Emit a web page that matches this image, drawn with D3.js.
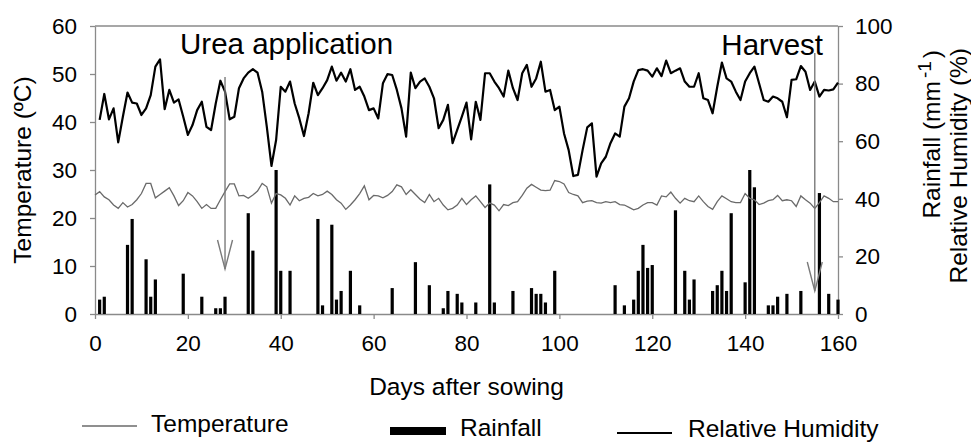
<!DOCTYPE html>
<html>
<head>
<meta charset="utf-8">
<script src="https://cdn.jsdelivr.net/npm/d3@7"></script>
<style>
  body { margin: 0; background: #fff; }
  svg text { font-family: "Liberation Sans", Arial, sans-serif; fill: #000; }
</style>
</head>
<body>
<svg id="chart"></svg>
<script>
var vWidth = 971,
  vHeight = 443,
  margin = {top: 26, right: 133, bottom: 129, left: 95};

// daily mean temperature (ºC), day 0 .. 160
var temperature = [
  24.8, 25.5, 24.4, 23.8, 22.7, 22.0, 23.2, 22.3, 22.8, 23.8,
  25.1, 27.2, 27.2, 24.2, 24.9, 25.6, 26.3, 24.6, 22.6, 23.6,
  25.3, 24.6, 23.4, 22.0, 22.8, 22.0, 22.0, 23.8, 25.5, 27.1,
  27.1, 24.6, 24.7, 24.1, 24.8, 25.6, 27.2, 26.5, 23.1, 25.1,
  24.8, 24.1, 22.7, 24.6, 23.6, 24.1, 24.3, 25.1, 24.6, 24.9,
  25.6, 24.9, 23.8, 23.1, 21.8, 22.7, 23.8, 25.1, 26.7, 23.8,
  24.7, 24.6, 24.2, 24.7, 25.5, 26.9, 26.5, 24.9, 25.9, 24.9,
  23.9, 23.2, 24.9, 23.4, 24.1, 22.7, 21.7, 22.0, 22.7, 24.1,
  22.8, 23.8, 24.6, 23.4, 22.2, 23.1, 22.7, 21.5, 22.8, 22.6,
  23.2, 23.4, 24.7, 26.2, 27.0, 26.4, 25.8, 25.7, 25.8, 27.8,
  27.6, 27.1, 25.3, 24.9, 24.6, 23.2, 23.5, 23.6, 23.2, 23.1,
  23.4, 23.2, 23.4, 22.8, 22.7, 22.2, 21.7, 22.0, 22.7, 23.2,
  23.2, 22.7, 24.6, 24.4, 25.4, 24.1, 23.1, 24.1, 23.6, 23.4,
  24.6, 23.4, 22.4, 21.8, 23.4, 24.6, 24.0, 23.4, 23.2, 23.2,
  25.1, 24.1, 23.8, 22.8, 23.1, 23.6, 23.8, 24.7, 23.6, 23.8,
  23.6, 22.4, 24.6, 23.8, 23.1, 22.0, 23.2, 24.6, 24.1, 23.4,
  23.4
];
var tempDays = d3.range(0, temperature.length);

// daily relative humidity (%), day 1 .. 160
var humidity = [
  67.4, 76.4, 67.6, 71.4, 59.6, 68.5, 76.9, 73.4, 73.1, 69.1,
  71.4, 76.0, 85.9, 88.4, 71.1, 77.8, 73.4, 74.5, 68.5, 62.2,
  65.6, 70.8, 73.7, 65.0, 63.9, 73.1, 81.0, 77.2, 67.6, 68.5,
  78.4, 81.8, 83.8, 85.0, 83.8, 77.2, 65.0, 51.4, 60.4, 78.9,
  77.2, 80.7, 73.1, 67.9, 61.8, 69.7, 80.3, 76.0, 78.4, 81.2,
  85.9, 81.0, 83.8, 80.7, 85.0, 77.8, 78.9, 75.5, 70.8, 71.4,
  67.9, 80.1, 83.3, 83.0, 77.8, 71.4, 61.6, 83.8, 78.4, 80.7,
  81.8, 78.9, 74.9, 64.5, 67.4, 72.6, 59.3, 63.9, 68.5, 73.4,
  60.6, 73.7, 67.4, 83.6, 83.6, 80.7, 78.4, 75.5, 84.5, 78.4,
  74.3, 83.6, 86.5, 78.9, 81.8, 87.6, 77.2, 77.8, 70.8, 72.0,
  62.7, 56.9, 47.9, 48.3, 56.9, 64.8, 66.2, 47.7, 52.3, 54.6,
  59.3, 62.7, 61.6, 72.0, 74.9, 80.7, 84.7, 85.0, 84.5, 82.4,
  85.3, 82.6, 88.0, 83.6, 84.5, 85.3, 80.7, 78.9, 78.9, 83.6,
  74.9, 74.3, 69.7, 78.9, 87.3, 81.8, 80.7, 77.2, 74.3, 80.7,
  83.6, 85.9, 80.1, 74.3, 73.7, 75.5, 74.9, 73.7, 68.3, 81.3,
  81.5, 86.1, 84.1, 77.8, 80.7, 75.5, 77.8, 77.6, 78.0, 80.3
];
var rhDays = d3.range(1, humidity.length + 1);

// rainfall events (mm)
var rainDays = [1, 2, 7, 8, 11, 12, 13, 19, 23, 26, 27, 28, 33, 34, 39, 40, 42, 48, 49, 51,
  52, 53, 55, 57, 64, 69, 72, 75, 76, 78, 79, 82, 85, 86, 90, 94, 95, 96, 97, 99,
  112, 114, 116, 117, 118, 119, 120, 125, 127, 128, 129, 133, 134, 135, 136, 137, 140, 141, 142, 145,
  146, 147, 149, 152, 156, 158, 160];
var rainfall = [5, 6, 24, 33, 19, 6, 12, 14, 6, 2, 2, 6, 35, 22, 50, 15, 15, 33, 3, 31,
  5, 8, 15, 3, 9, 18, 10, 2, 8, 7, 4, 4, 45, 4, 8, 9, 7, 7, 4, 15,
  10, 3, 5, 15, 24, 16, 17, 36, 15, 5, 12, 8, 10, 15, 8, 35, 11, 50, 44, 3,
  3, 6, 7, 8, 42, 7, 5];

var xTicks = [0, 20, 40, 60, 80, 100, 120, 140, 160],
  leftTicks = [0, 10, 20, 30, 40, 50, 60],
  rightTicks = [0, 20, 40, 60, 80, 100];

// events marked with arrows
var events = [
  {label: 'Urea application', day: 28},
  {label: 'Harvest', day: 155}
];

var svg = d3.select('#chart')
  .attr('width', vWidth)
  .attr('height', vHeight);

var x = d3.scaleLinear().domain([0, 160]).range([margin.left, vWidth - margin.right]);
var yL = d3.scaleLinear().domain([0, 60]).range([vHeight - margin.bottom, margin.top]);
var yR = d3.scaleLinear().domain([0, 100]).range([vHeight - margin.bottom, margin.top]);

var axisColor = '#8a8a8a',
  labelSize = 24.5;

//frame top line
svg.append('line')
  .attr('x1', x(0)).attr('x2', x(160))
  .attr('y1', yL(60)).attr('y2', yL(60))
  .attr('stroke', axisColor).attr('stroke-width', 1.3);

function styleAxis(g) {
  g.selectAll('.domain').attr('stroke', axisColor).attr('stroke-width', 1.3);
  g.selectAll('.tick line').attr('stroke', axisColor).attr('stroke-width', 1.3);
  g.selectAll('.tick text')
    .attr('font-size', 22.5)
    .style('font-family', '"Liberation Sans", Arial, sans-serif')
    .attr('fill', '#000');
}

svg.append('g')
  .attr('transform', 'translate(0,' + yL(0) + ')')
  .call(d3.axisBottom(x).tickValues(xTicks).tickSize(5).tickSizeOuter(0).tickPadding(16))
  .call(styleAxis);

svg.append('g')
  .attr('transform', 'translate(' + x(0) + ',0)')
  .call(d3.axisLeft(yL).tickValues(leftTicks).tickSize(5).tickSizeOuter(0).tickPadding(13))
  .call(styleAxis);

svg.append('g')
  .attr('transform', 'translate(' + x(160) + ',0)')
  .call(d3.axisRight(yR).tickValues(rightTicks).tickSize(5).tickSizeOuter(0).tickPadding(12))
  .call(styleAxis);

//rainfall bars
svg.append('g')
  .selectAll('rect')
  .data(rainDays)
  .enter()
  .append('rect')
  .attr('x', function(d) { return x(d) - 1.6; })
  .attr('width', 3.2)
  .attr('y', function(d, i) { return yR(rainfall[i]); })
  .attr('height', function(d, i) { return yR(0) - yR(rainfall[i]); })
  .attr('fill', '#000');

//temperature line
var tLine = d3.line()
  .x(function(d) { return x(d); })
  .y(function(d, i) { return yL(temperature[i]); });

svg.append('path')
  .datum(tempDays)
  .attr('d', tLine)
  .attr('fill', 'none')
  .attr('stroke', '#6a6a6a')
  .attr('stroke-width', 1.3);

//humidity line
var hLine = d3.line()
  .x(function(d) { return x(d); })
  .y(function(d, i) { return yR(humidity[i]); });

svg.append('path')
  .datum(rhDays)
  .attr('d', hLine)
  .attr('fill', 'none')
  .attr('stroke', '#000')
  .attr('stroke-width', 2.2)
  .attr('stroke-linejoin', 'round');

//event arrows
var arrowTop = [77, 53],
  arrowTip = [269, 291];

events.forEach(function(ev, i) {
  var ax = x(ev.day), g = svg.append('g')
    .attr('stroke', '#7a7a7a')
    .attr('stroke-width', 1.4)
    .attr('fill', 'none');
  g.append('line')
    .attr('x1', ax).attr('x2', ax)
    .attr('y1', arrowTop[i]).attr('y2', arrowTip[i]);
  g.append('path')
    .attr('d', 'M' + (ax - 7.5) + ',' + (arrowTip[i] - 29) + 'L' + ax + ',' + arrowTip[i] +
      'L' + (ax + 7.5) + ',' + (arrowTip[i] - 29));
});

svg.append('text')
  .attr('x', 180).attr('y', 54)
  .attr('font-size', 29.5)
  .text(events[0].label);

svg.append('text')
  .attr('x', 823).attr('y', 55)
  .attr('text-anchor', 'end')
  .attr('font-size', 29.5)
  .text(events[1].label);

//axis titles
svg.append('text')
  .attr('transform', 'translate(31,' + yL(30) + ')rotate(-90)')
  .attr('text-anchor', 'middle')
  .attr('font-size', labelSize)
  .text('Temperature (ºC)');

var rTitle = svg.append('text')
  .attr('transform', 'translate(940,50)rotate(-90)')
  .attr('text-anchor', 'end')
  .attr('font-size', labelSize);
rTitle.append('tspan').text('Rainfall (mm');
rTitle.append('tspan').attr('font-size', 19).attr('dx', 3).attr('dy', -9).text('-1');
rTitle.append('tspan').attr('dx', 3).attr('dy', 9).text(')');

svg.append('text')
  .attr('transform', 'translate(967,48)rotate(-90)')
  .attr('text-anchor', 'end')
  .attr('font-size', labelSize)
  .text('Relative Humidity (%)');

svg.append('text')
  .attr('x', (x(0) + x(160)) / 2).attr('y', 395)
  .attr('text-anchor', 'middle')
  .attr('font-size', labelSize)
  .text('Days after sowing');

//legend
var legend = svg.append('g');
legend.append('line')
  .attr('x1', 82).attr('x2', 137).attr('y1', 426).attr('y2', 426)
  .attr('stroke', '#6a6a6a').attr('stroke-width', 1.3);
legend.append('text').attr('x', 151).attr('y', 432).attr('font-size', labelSize).text('Temperature');
legend.append('rect')
  .attr('x', 390).attr('y', 427).attr('width', 56).attr('height', 8)
  .attr('fill', '#000');
legend.append('text').attr('x', 460).attr('y', 436).attr('font-size', labelSize).text('Rainfall');
legend.append('line')
  .attr('x1', 617).attr('x2', 672).attr('y1', 433).attr('y2', 433)
  .attr('stroke', '#000').attr('stroke-width', 2);
legend.append('text').attr('x', 688).attr('y', 437).attr('font-size', labelSize).text('Relative Humidity');
</script>
</body>
</html>
